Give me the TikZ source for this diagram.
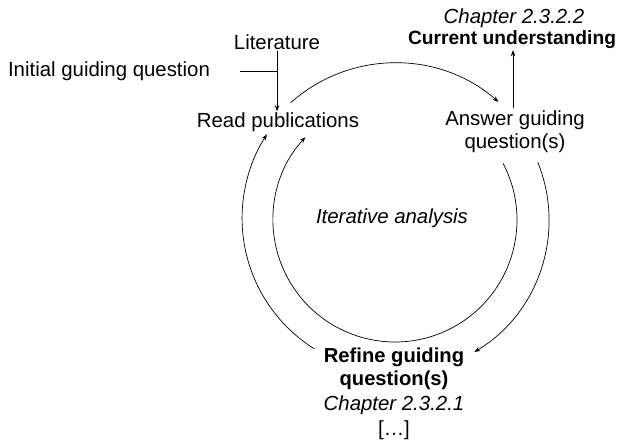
\documentclass[tikz,border=0pt]{standalone}
\usepackage{fontspec}
\setmainfont{Liberation Sans}
\usetikzlibrary{arrows.meta}
\begin{document}
\begin{tikzpicture}[x=1pt,y=1pt,
  lbl/.style={font=\fontsize{20.4}{23}\selectfont, align=center, inner sep=1pt},
  conn/.style={line width=0.7pt, -{Stealth[length=6pt,width=4.5pt]}},
  plain/.style={line width=0.7pt}]
\useasboundingbox (0,0) rectangle (626,442);
\coordinate (c) at (395,222);
\node[lbl] (lit) at (277,400) {Literature};
\node[lbl] (init) at (109,371) {Initial guiding question};
\node[lbl] (read) at (278,320) {Read publications};
\node[lbl, font=\fontsize{20.4}{23}\selectfont\itshape] (ch2) at (514,424) {Chapter 2.3.2.2};
\node[lbl, font=\fontsize{19.2}{23}\selectfont\bfseries] (cur) at (512,402) {Current understanding};
\node[lbl] (ans) at (515,310.5) {Answer guiding\\question(s)};
\node[lbl, font=\fontsize{20.4}{23}\selectfont\itshape] (iter) at (392,224) {Iterative analysis};
\node[lbl, font=\fontsize{20.2}{23}\selectfont\bfseries] (ref) at (394,73.5) {Refine guiding\\question(s)};
\node[lbl, font=\fontsize{20.4}{23}\selectfont\itshape] (ch1) at (394,37) {Chapter 2.3.2.1};
\node[lbl] (dots) at (394,12) {[\dots]};
% junction
\coordinate (js) at (240,371);
\coordinate (j) at (277,371);
\draw[plain] (js) -- (j);
\draw[conn] (lit.south) -- (lit.south |- read.north);
\coordinate (as) at (513,334);
\draw[conn] (as) -- (as |- cur.south);
% arcs
\draw[conn] ([shift={(131.7:157)}]c) arc[start angle=131.7, end angle=48.8, radius=157];
\draw[conn] ([shift={(27.6:122)}]c) arc[start angle=27.6, end angle=-222.7, radius=122];
\draw[conn] ([shift={(22:154)}]c) arc[start angle=22, end angle=-59, radius=154];
\draw[conn] ([shift={(238:152)}]c) arc[start angle=238, end angle=147, radius=154];
\end{tikzpicture}
\end{document}
